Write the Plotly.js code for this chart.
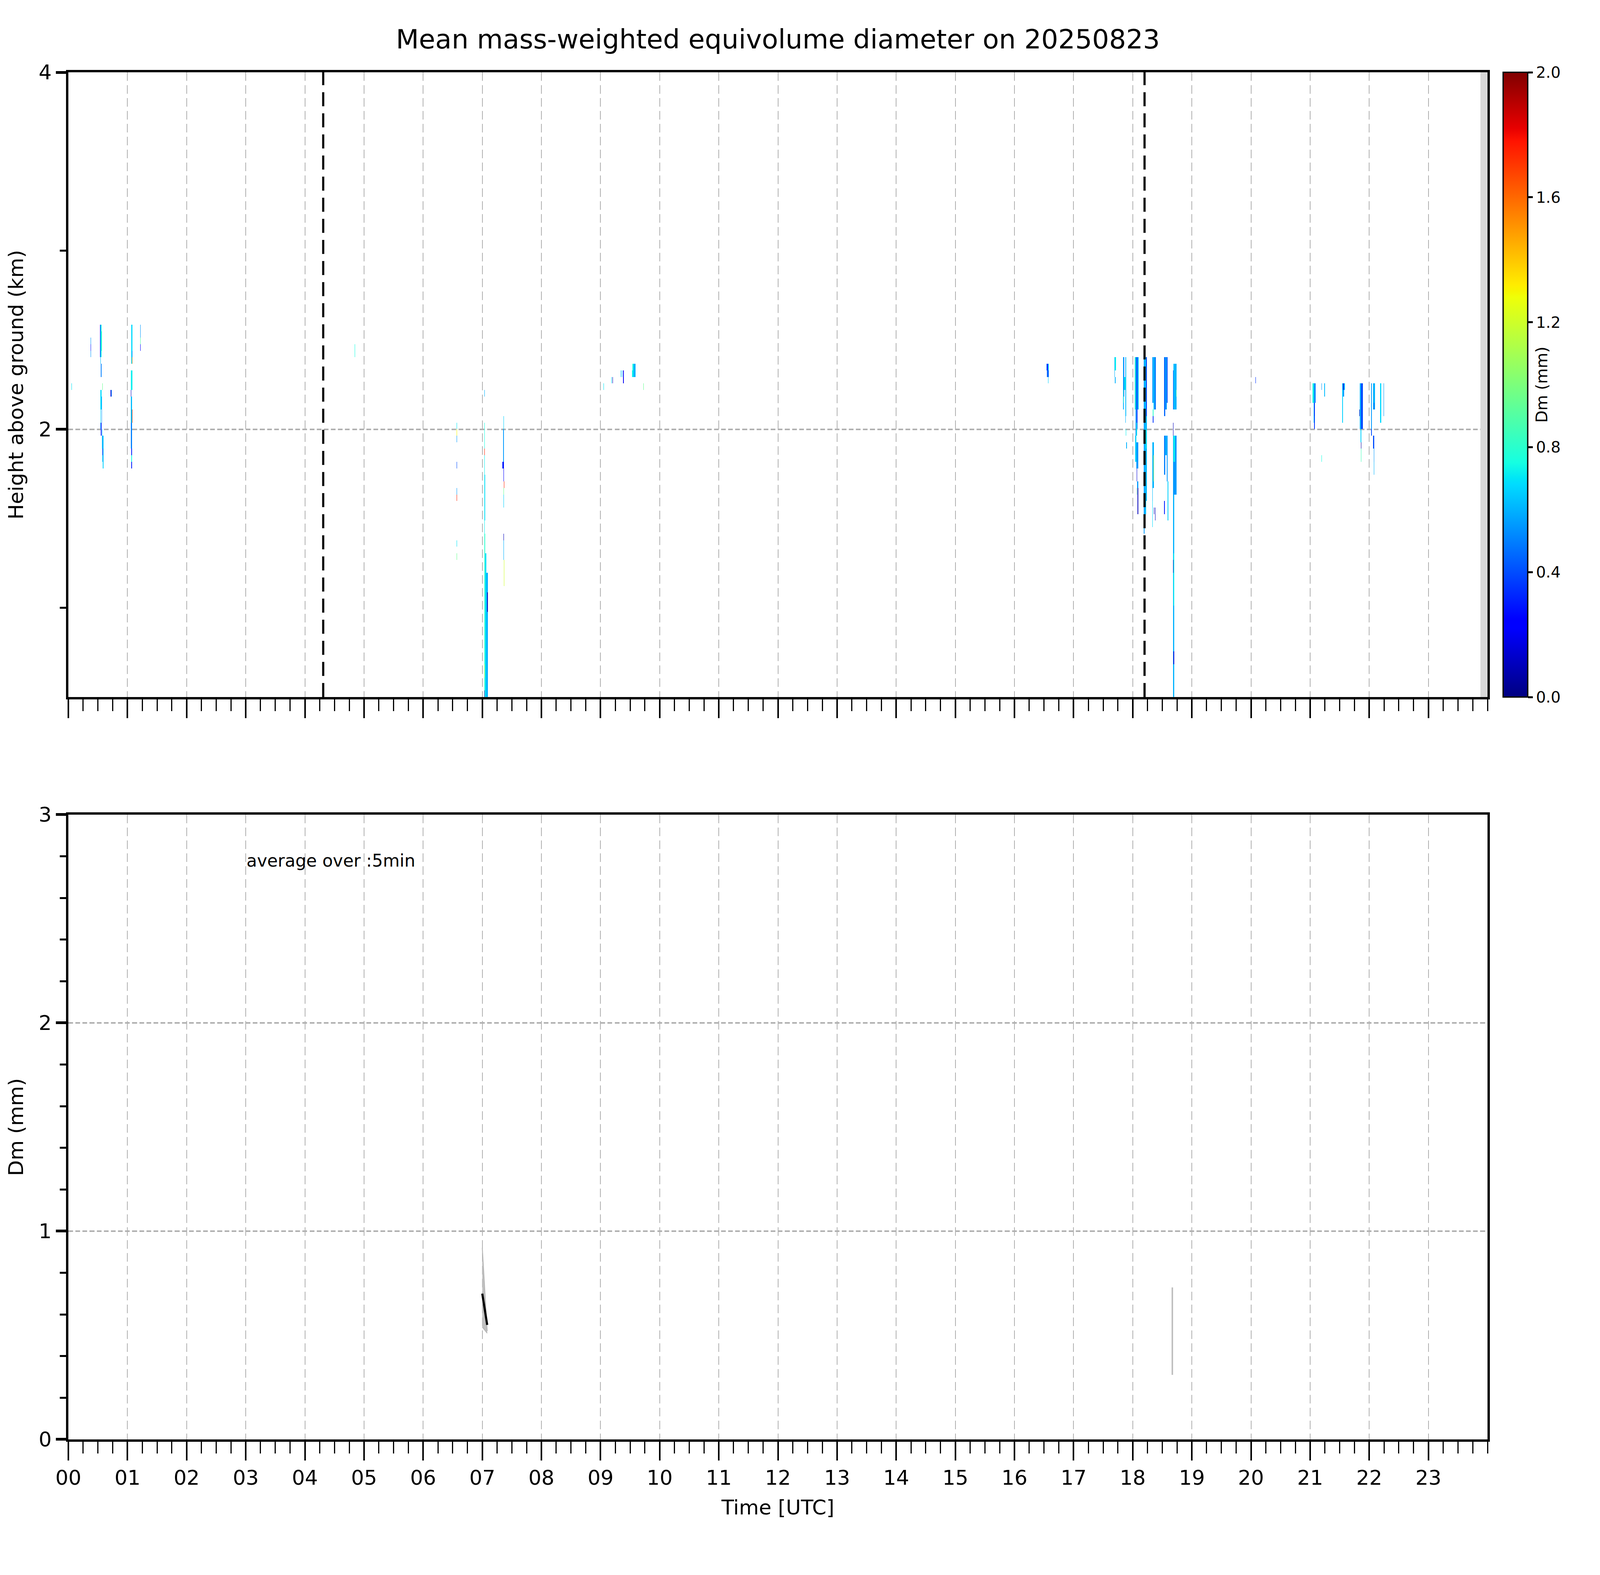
<!DOCTYPE html>
<html>
<head>
<meta charset="utf-8">
<script src="https://cdn.plot.ly/plotly-3.0.1.min.js"></script>
<style>html,body{margin:0;padding:0;background:#fff;overflow:hidden}</style>
</head>
<body>
<div id="myDiv"></div>
<script>
// echo patches: [start h, end h, bottom km, top km, Dm mm]
var echoCells = [
  [0.05,0.056,2.21,2.25,0.7],
  [0.372,0.378,2.40,2.51,0.55],
  [0.372,0.378,2.44,2.47,0.3],
  [0.535,0.543,2.40,2.573,0.3],
  [0.543,0.552,2.36,2.573,0.62],
  [0.552,0.56,2.39,2.573,0.75],
  [0.56,0.566,2.43,2.55,0.85],
  [0.546,0.552,2.28,2.36,0.5],
  [0.575,0.58,2.213,2.249,0.95],
  [0.545,0.555,2.11,2.213,0.68],
  [0.555,0.565,2.03,2.18,0.55],
  [0.545,0.552,1.99,2.1,0.66],
  [0.552,0.56,1.95,2.03,0.3],
  [0.565,0.575,1.9,2.0,0.6],
  [0.575,0.59,1.82,1.96,0.62],
  [0.572,0.578,1.84,1.9,0.25],
  [0.585,0.592,1.78,1.83,0.66],
  [0.716,0.722,2.18,2.213,0.15],
  [0.728,0.732,2.18,2.213,0.6],
  [1.07,1.08,2.36,2.573,0.68],
  [1.075,1.085,2.36,2.45,0.5],
  [1.072,1.076,2.36,2.40,1.55],
  [1.215,1.222,2.43,2.573,0.55],
  [1.218,1.224,2.46,2.51,0.9],
  [1.215,1.222,2.43,2.47,0.25],
  [1.06,1.085,2.21,2.32,0.72],
  [1.055,1.065,2.18,2.213,0.1],
  [1.06,1.075,2.03,2.18,0.62],
  [1.078,1.084,2.03,2.10,1.7],
  [1.06,1.075,1.89,2.03,0.5],
  [1.065,1.072,1.85,1.89,0.3],
  [1.068,1.078,1.82,1.85,0.75],
  [1.07,1.076,1.78,1.82,0.3],
  [4.845,4.852,2.40,2.46,0.75],
  [6.565,6.573,2.0,2.031,0.7],
  [6.565,6.573,1.96,2.0,1.3],
  [6.563,6.57,1.92,1.96,0.55],
  [6.565,6.572,1.78,1.81,0.4],
  [6.565,6.572,1.64,1.67,0.55],
  [6.565,6.572,1.60,1.64,1.75],
  [6.567,6.574,1.35,1.38,0.7],
  [6.567,6.574,1.28,1.31,0.95],
  [7.035,7.042,2.17,2.21,0.6],
  [7.035,7.042,1.85,2.03,0.75],
  [7.035,7.04,1.87,1.9,1.75],
  [7.035,7.045,1.42,1.85,0.72],
  [7.04,7.05,1.5,1.75,0.66],
  [7.033,7.05,0.5,1.42,0.8],
  [7.05,7.065,0.5,1.3,0.68],
  [7.065,7.09,0.5,1.2,0.6],
  [7.08,7.095,0.99,1.1,0.1],
  [7.035,7.04,0.5,0.55,0.1],
  [7.033,7.04,0.6,0.7,1.1],
  [7.355,7.37,1.99,2.07,0.66],
  [7.35,7.365,1.82,1.99,0.55],
  [7.345,7.355,1.77,1.83,0.3],
  [7.36,7.37,1.72,1.80,0.25],
  [7.365,7.372,1.68,1.72,1.75],
  [7.355,7.365,1.62,1.68,0.95],
  [7.36,7.37,1.55,1.64,0.66],
  [7.36,7.365,1.38,1.43,0.1],
  [7.36,7.37,1.28,1.38,0.6],
  [7.365,7.372,1.13,1.28,1.2],
  [9.05,9.056,2.213,2.249,0.7],
  [9.183,9.19,2.25,2.285,0.68],
  [9.2,9.205,2.25,2.285,0.1],
  [9.34,9.352,2.285,2.32,0.62],
  [9.36,9.37,2.285,2.32,0.66],
  [9.38,9.385,2.25,2.32,0.2],
  [9.535,9.555,2.285,2.32,0.72],
  [9.555,9.59,2.285,2.356,0.6],
  [9.545,9.555,2.32,2.356,0.75],
  [9.728,9.734,2.213,2.249,0.95],
  [16.54,16.55,2.319,2.358,0.55],
  [16.55,16.565,2.319,2.358,0.3],
  [16.565,16.58,2.319,2.358,0.68],
  [16.55,16.58,2.284,2.319,0.45],
  [16.57,16.578,2.248,2.284,0.66],
  [17.693,17.703,2.285,2.393,0.6],
  [17.703,17.713,2.32,2.393,0.72],
  [17.698,17.703,2.25,2.285,0.6],
  [17.835,17.85,2.10,2.393,0.6],
  [17.85,17.86,2.17,2.393,0.4],
  [17.86,17.872,2.21,2.30,0.72],
  [17.872,17.893,2.07,2.393,0.62],
  [17.875,17.88,2.03,2.07,0.6],
  [17.885,17.89,1.96,2.0,0.72],
  [17.89,17.895,1.89,1.93,0.6],
  [17.842,17.848,2.14,2.21,0.8],
  [18.035,18.05,2.1,2.393,0.8],
  [18.05,18.07,1.96,2.393,0.55],
  [18.07,18.085,2.0,2.393,0.35],
  [18.085,18.096,2.1,2.393,0.62],
  [18.04,18.06,1.85,1.96,0.66],
  [18.055,18.075,1.96,2.03,0.72],
  [18.06,18.09,1.78,1.93,0.55],
  [18.045,18.055,1.82,1.85,0.68],
  [18.065,18.075,1.71,1.78,0.15],
  [18.075,18.09,1.67,1.71,0.55],
  [18.065,18.07,1.64,1.67,0.9],
  [18.08,18.09,1.6,1.67,0.1],
  [18.085,18.092,1.53,1.6,0.1],
  [18.184,18.2,1.42,2.393,0.55],
  [18.2,18.225,1.53,2.393,0.62],
  [18.225,18.245,1.6,2.07,0.6],
  [18.225,18.245,2.07,2.393,0.35],
  [18.215,18.23,1.9,2.0,0.72],
  [18.333,18.35,2.14,2.393,0.55],
  [18.35,18.37,2.10,2.393,0.66],
  [18.37,18.394,2.10,2.393,0.5],
  [18.338,18.35,2.07,2.10,0.8],
  [18.345,18.35,2.03,2.07,0.35],
  [18.333,18.345,1.60,1.926,0.62],
  [18.345,18.355,1.68,1.93,0.6],
  [18.35,18.358,1.70,1.85,1.1],
  [18.335,18.345,1.46,1.60,0.68],
  [18.355,18.365,1.53,1.56,0.1],
  [18.372,18.375,1.49,1.55,0.1],
  [18.536,18.55,2.07,2.393,0.45],
  [18.55,18.575,2.10,2.393,0.55],
  [18.575,18.593,2.14,2.393,0.4],
  [18.536,18.55,1.74,1.961,0.5],
  [18.55,18.575,1.85,1.961,0.6],
  [18.575,18.593,1.70,1.961,0.55],
  [18.536,18.545,1.53,1.60,0.3],
  [18.588,18.593,1.49,1.70,0.66],
  [18.68,18.69,2.103,2.33,0.4],
  [18.69,18.72,2.103,2.359,0.62],
  [18.72,18.74,2.103,2.359,0.6],
  [18.735,18.74,2.18,2.23,0.9],
  [18.68,18.69,1.96,2.03,0.1],
  [18.68,18.74,1.64,1.961,0.55],
  [18.695,18.72,1.8,1.96,0.72],
  [18.68,18.7,0.5,1.64,0.6],
  [18.69,18.7,1.0,1.3,0.72],
  [18.68,18.69,1.2,1.26,0.1],
  [18.69,18.7,0.7,0.75,0.15],
  [20.078,20.084,2.249,2.286,0.35],
  [21.045,21.06,2.14,2.249,0.75],
  [21.06,21.075,2.10,2.249,0.6],
  [21.075,21.093,2.14,2.249,0.5],
  [21.06,21.07,2.03,2.14,0.68],
  [21.07,21.08,2.067,2.14,0.3],
  [21.07,21.08,2.0,2.067,0.35],
  [21.19,21.195,2.213,2.249,0.55],
  [21.24,21.243,2.176,2.249,0.62],
  [21.19,21.195,1.82,1.855,0.75],
  [21.54,21.56,2.14,2.249,0.66],
  [21.56,21.59,2.213,2.249,0.6],
  [21.555,21.565,2.213,2.249,0.15],
  [21.545,21.56,2.03,2.14,0.66],
  [21.56,21.575,2.176,2.213,0.55],
  [21.84,21.86,2.0,2.249,0.6],
  [21.86,21.89,2.0,2.249,0.4],
  [21.835,21.845,2.07,2.10,0.1],
  [21.85,21.87,1.925,2.0,0.66],
  [21.86,21.865,1.89,1.925,0.05],
  [21.855,21.86,1.815,1.89,0.85],
  [22.03,22.045,2.0,2.249,0.55],
  [22.035,22.04,1.96,2.0,0.4],
  [22.07,22.10,2.104,2.249,0.6],
  [22.075,22.08,2.104,2.14,0.35],
  [22.067,22.08,1.89,1.961,0.4],
  [22.072,22.085,1.815,1.89,0.55],
  [22.075,22.085,1.745,1.815,0.6],
  [22.187,22.196,2.031,2.249,0.68],
  [22.24,22.246,2.067,2.249,0.55]
];

// grid of the profiler
var stepHours = 1 / 120;
var gateKm = 0.0366;
var lowestKm = 0.5;
var nGates = 96;

// 5-min averaged Dm (lower panel)
var dmTime = [7.0, 7.083];
var dmMean = [0.70, 0.55];
var dmLow = [0.54, 0.51];
var dmHigh = [0.92, 0.52];

var spreadTime = [18.67];
var spreadLow = [0.31];
var spreadHigh = [0.73];

var markTimes = [4.31, 18.2];
var noDataFrom = 23.88;

var hourTicks = [0,1,2,3,4,5,6,7,8,9,10,11,12,13,14,15,16,17,18,19,20,21,22,23];
var hourLabels = ['00','01','02','03','04','05','06','07','08','09','10','11',
  '12','13','14','15','16','17','18','19','20','21','22','23'];

// fill the viewport that actually gets photographed
var W = window.innerWidth || 7442;
var H = window.innerHeight || 4031;
if (H > W) H = W;
var sx = W / 7442, sy = H / 4031;
function px(v) { return v * sx; }
function py(v) { return v * sy; }

var nCols = Math.round(24 / stepHours);
var xEdges = [], yEdges = [], z = [];
for (var i = 0; i <= nCols; i++) xEdges.push(i * stepHours);
for (var j = 0; j <= nGates; j++) yEdges.push(lowestKm + j * gateKm);
for (var j = 0; j < nGates; j++) {
  var row = new Array(nCols);
  for (var i = 0; i < nCols; i++) row[i] = null;
  z.push(row);
}
echoCells.forEach(function (c) {
  var i0 = Math.round(c[0] / stepHours);
  var i1 = Math.max(i0, Math.round(c[1] / stepHours) - 1);
  var j0 = Math.round((c[2] - lowestKm) / gateKm);
  var j1 = Math.max(j0, Math.round((c[3] - lowestKm) / gateKm) - 1);
  for (var j = j0; j <= j1 && j < nGates; j++)
    for (var i = i0; i <= i1 && i < nCols; i++) z[j][i] = c[4];
});

var jet = [
  [0, 'rgb(0,0,128)'], [0.11, 'rgb(0,0,255)'], [0.125, 'rgb(0,0,255)'],
  [0.34, 'rgb(0,219,255)'], [0.35, 'rgb(0,229,247)'], [0.375, 'rgb(21,255,226)'],
  [0.64, 'rgb(239,255,8)'], [0.65, 'rgb(247,245,0)'], [0.66, 'rgb(255,236,0)'],
  [0.89, 'rgb(255,19,0)'], [0.91, 'rgb(232,0,0)'], [1, 'rgb(128,0,0)']
];

var heat = {
  type: 'heatmap',
  x: xEdges,
  y: yEdges,
  z: z,
  zmin: 0,
  zmax: 2,
  zsmooth: false,
  colorscale: jet,
  hoverinfo: 'skip',
  xaxis: 'x',
  yaxis: 'y',
  colorbar: {
    x: 1.0109, xanchor: 'left', xpad: 0,
    y: 0.543, yanchor: 'bottom', ypad: 0,
    len: 0.457, lenmode: 'fraction',
    thickness: px(115), thicknessmode: 'pixels',
    outlinewidth: px(6), outlinecolor: 'black',
    tickmode: 'linear', tick0: 0, dtick: 0.4, tickformat: '.1f',
    ticks: 'outside', ticklen: px(22), tickwidth: py(5), tickcolor: 'black',
    tickfont: {size: px(72)},
    title: {text: 'Dm (mm)', side: 'right', font: {size: px(74)}}
  }
};

var bandTop = {
  type: 'scatter', mode: 'lines', x: dmTime, y: dmHigh,
  xaxis: 'x2', yaxis: 'y2', showlegend: false, hoverinfo: 'skip',
  line: {color: 'rgb(180,180,180)', width: px(4)}
};
var bandBottom = {
  type: 'scatter', mode: 'lines', x: dmTime, y: dmLow,
  xaxis: 'x2', yaxis: 'y2', showlegend: false, hoverinfo: 'skip',
  fill: 'tonexty', fillcolor: 'rgb(192,192,192)',
  line: {color: 'rgb(180,180,180)', width: px(4)}
};
var meanLine = {
  type: 'scatter', mode: 'lines', x: dmTime, y: dmMean,
  xaxis: 'x2', yaxis: 'y2', showlegend: false,
  line: {color: 'black', width: px(10)}
};
var spread = {
  type: 'scatter', mode: 'markers', x: spreadTime, y: spreadLow,
  xaxis: 'x2', yaxis: 'y2', showlegend: false, hoverinfo: 'skip',
  marker: {size: 1, color: 'rgba(0,0,0,0)'},
  error_y: {
    type: 'data', symmetric: false,
    array: spreadHigh.map(function (v, k) { return v - spreadLow[k]; }),
    arrayminus: spreadLow.map(function () { return 0; }),
    color: 'rgb(190,190,190)', thickness: px(7), width: 0
  }
};

function dashOf(a, b) { return a + 'px,' + b + 'px'; }

function timeAxis(anchor, labels) {
  return {
    anchor: anchor, domain: [0, 1], range: [0, 24],
    tickmode: 'array', tickvals: hourTicks, ticktext: hourLabels,
    showticklabels: labels, tickfont: {size: px(95)},
    ticks: 'outside', ticklen: py(48), tickwidth: px(7), tickcolor: 'black',
    minor: {tickmode: 'linear', tick0: 0, dtick: 0.25, ticks: 'outside',
      ticklen: py(30), tickwidth: px(5), tickcolor: 'black', showgrid: false},
    showline: true, linewidth: px(10), linecolor: 'black', mirror: true,
    showgrid: true, gridcolor: '#b0b0b0', gridwidth: px(4),
    griddash: dashOf(py(22), py(11)),
    zeroline: false
  };
}

function valueAxis(anchor, domain) {
  return {
    anchor: anchor, domain: domain,
    tickfont: {size: px(95)},
    ticks: 'outside', ticklen: px(48), tickwidth: py(7), tickcolor: 'black',
    showline: true, linewidth: px(10), linecolor: 'black', mirror: true,
    showgrid: true, gridcolor: '#b0b0b0', gridwidth: py(4),
    griddash: dashOf(px(22), px(11)),
    zeroline: false
  };
}

var xTop = timeAxis('y', false);
var xBottom = timeAxis('y2', true);
xBottom.title = {text: 'Time [UTC]', font: {size: px(95)}, standoff: py(30)};

var yTop = valueAxis('x', [0.543, 1]);
yTop.range = [0.5, 4];
yTop.tickmode = 'array';
yTop.tickvals = [2, 4];
yTop.minor = {tickmode: 'array', tickvals: [1, 3], ticks: 'outside',
  ticklen: px(30), tickwidth: py(5), tickcolor: 'black', showgrid: false};
yTop.title = {text: 'Height above ground (km)', font: {size: px(95)}, standoff: px(45)};

var yBottom = valueAxis('x2', [0, 0.457]);
yBottom.range = [0, 3];
yBottom.tickmode = 'linear';
yBottom.tick0 = 0;
yBottom.dtick = 1;
yBottom.minor = {tickmode: 'linear', tick0: 0, dtick: 0.2, ticks: 'outside',
  ticklen: px(30), tickwidth: py(5), tickcolor: 'black', showgrid: false};
yBottom.title = {text: 'Dm (mm)', font: {size: px(95)}, standoff: px(45)};

var shapes = markTimes.map(function (t) {
  return {type: 'line', xref: 'x', yref: 'y domain', x0: t, x1: t, y0: 0, y1: 1,
    layer: 'above',
    line: {color: 'black', width: px(10), dash: dashOf(py(36), py(18))}};
});
shapes.push({type: 'rect', xref: 'x', yref: 'y domain', x0: noDataFrom, x1: 24,
  y0: 0, y1: 1, layer: 'above', fillcolor: 'rgb(216,216,216)', line: {width: 0}});

var layout = {
  width: W,
  height: H,
  margin: {l: px(318), r: px(524), t: py(185), b: py(347)},
  paper_bgcolor: 'white',
  plot_bgcolor: 'white',
  font: {family: 'DejaVu Sans', color: 'black', size: px(95)},
  showlegend: false,
  title: {text: 'Mean mass-weighted equivolume diameter on 20250823',
    font: {size: px(124)}, xref: 'paper', x: 0.5, xanchor: 'center',
    yref: 'container', y: 1 - py(100) / H, yanchor: 'middle'},
  xaxis: xTop,
  xaxis2: xBottom,
  yaxis: yTop,
  yaxis2: yBottom,
  shapes: shapes,
  annotations: [{
    xref: 'x2', yref: 'y2', x: 3.0, y: 2.78, xanchor: 'left', yanchor: 'middle',
    text: 'average over :5min', showarrow: false, font: {size: px(80)}
  }]
};

var data = [heat, bandTop, bandBottom, meanLine, spread];

Plotly.newPlot('myDiv', data, layout, {displayModeBar: false, responsive: false});
</script>
</body>
</html>
